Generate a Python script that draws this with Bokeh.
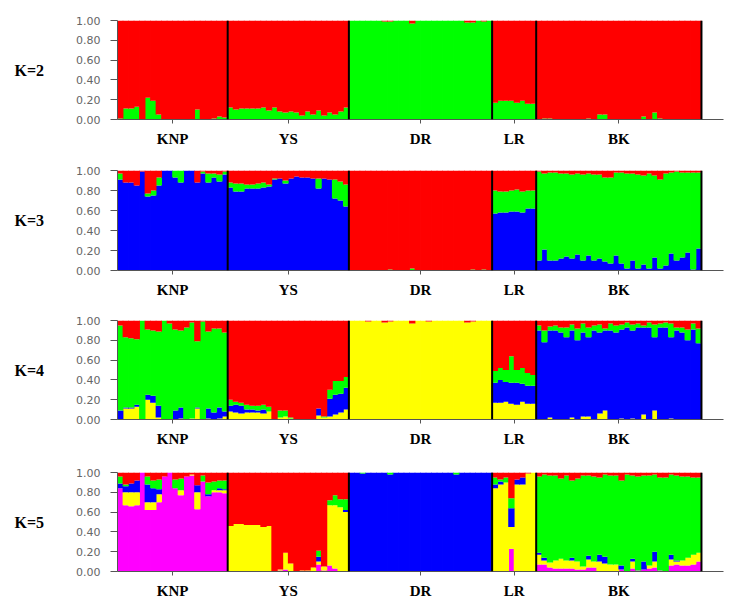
import numpy as np
from bokeh.plotting import figure
from bokeh.layouts import column
from bokeh.models import ColumnDataSource, Range1d, FixedTicker, Span, NumeralTickFormatter
from bokeh.embed import file_html
from bokeh.resources import INLINE

# ---------------- data ----------------
POPS = ["KNP", "YS", "DR", "LR", "BK"]
POP_SIZES = [20, 22, 26, 8, 30]
K_LABELS = ["K=2", "K=3", "K=4", "K=5"]
Y_TICKS = [0.0, 0.2, 0.4, 0.6, 0.8, 1.0]

# membership proportions per individual, cluster stacked bottom -> top;
# red is always the top cluster (remainder to 1.0)
K2_GREEN = (
    [0.01, 0.11, 0.11, 0.13, 0.00, 0.22, 0.19, 0.05, 0, 0, 0, 0, 0, 0, 0.10, 0, 0, 0.01, 0.03, 0.02]
    + [0.12, 0.10, 0.11, 0.11, 0.11, 0.11, 0.12, 0.09, 0.12, 0.08, 0.07, 0.08, 0.07, 0.04, 0.08, 0.05, 0.09, 0.04, 0.07, 0.05, 0.08, 0.12]
    + [1, 1, 1, 1, 1, 1, 0.99, 0.99, 1, 1, 1, 0.97, 1, 1, 1, 1, 1, 1, 1, 1, 1, 0.98, 0.98, 1, 0.99, 1]
    + [0.17, 0.19, 0.19, 0.19, 0.17, 0.19, 0.16, 0.16]
    + [0, 0.01, 0.01, 0, 0, 0, 0, 0, 0, 0.01, 0, 0.05, 0.05, 0, 0, 0, 0, 0, 0, 0.03, 0, 0.07, 0.01, 0, 0, 0, 0, 0, 0, 0]
)

K3_BLUE = (
    [0.91, 0.88, 0.88, 0.85, 0.99, 0.74, 0.75, 0.85, 1, 1, 0.93, 0.88, 1, 1, 0.88, 0.97, 0.88, 0.93, 0.89, 0.96]
    + [0.83, 0.79, 0.79, 0.82, 0.82, 0.82, 0.83, 0.84, 0.91, 0.92, 0.87, 0.92, 0.94, 0.93, 0.93, 0.92, 0.82, 0.92, 0.91, 0.72, 0.70, 0.64]
    + [0] * 26
    + [0.57, 0.58, 0.58, 0.59, 0.59, 0.58, 0.62, 0.62]
    + [0.10, 0.21, 0.10, 0.10, 0.12, 0.14, 0.12, 0.16, 0.10, 0.15, 0.10, 0.12, 0.09, 0.07, 0.15, 0.07, 0.02, 0.10, 0.02, 0.06, 0.02, 0.13, 0.02, 0.05, 0.17, 0.10, 0.13, 0.18, 0.01, 0.22]
)
K3_GREEN = (
    [0.06, 0, 0, 0, 0, 0.03, 0.05, 0.08, 0, 0, 0.07, 0.12, 0, 0, 0, 0.02, 0.09, 0.04, 0.07, 0.03]
    + [0.05, 0.08, 0.08, 0.04, 0.04, 0.05, 0.05, 0.02, 0.01, 0, 0.03, 0, 0, 0, 0, 0, 0.10, 0, 0, 0.19, 0.19, 0.22]
    + [0, 0, 0, 0, 0, 0, 0, 0.01, 0, 0, 0, 0.02, 0, 0, 0, 0, 0, 0, 0, 0, 0, 0, 0.01, 0, 0.01, 0]
    + [0.23, 0.21, 0.21, 0.21, 0.22, 0.21, 0.18, 0.18]
    + [0.89, 0.76, 0.88, 0.88, 0.85, 0.83, 0.84, 0.81, 0.86, 0.82, 0.86, 0.84, 0.84, 0.86, 0.83, 0.91, 0.95, 0.87, 0.94, 0.89, 0.95, 0.82, 0.89, 0.92, 0.81, 0.89, 0.85, 0.80, 0.97, 0.76]
)

K4_YELLOW = (
    [0, 0.11, 0.11, 0.13, 0, 0.20, 0.17, 0.02, 0, 0, 0, 0.01, 0, 0.01, 0.11, 0, 0.01, 0, 0.01, 0.03]
    + [0.08, 0.07, 0.06, 0.07, 0.07, 0.07, 0.06, 0.08, 0, 0.02, 0.03, 0.01, 0, 0, 0, 0, 0.04, 0.02, 0.03, 0.05, 0.07, 0.10]
    + [1, 1, 1, 0.99, 1, 1, 0.98, 0.99, 1, 1, 1, 0.97, 1, 1, 0.99, 1, 1, 1, 1, 1, 1, 0.98, 0.99, 1, 1, 1]
    + [0.17, 0.17, 0.18, 0.16, 0.15, 0.18, 0.16, 0.16]
    + [0, 0, 0.02, 0, 0, 0, 0.02, 0, 0.03, 0.03, 0, 0.06, 0.09, 0, 0, 0.01, 0, 0.01, 0, 0.05, 0, 0.09, 0, 0, 0.01, 0, 0, 0, 0, 0]
)
K4_BLUE = (
    [0.09, 0.01, 0.01, 0.02, 0, 0.05, 0.07, 0.12, 0, 0, 0.09, 0.11, 0, 0, 0.01, 0, 0.10, 0.07, 0.11, 0.05]
    + [0.06, 0.08, 0.08, 0.03, 0.03, 0.02, 0.04, 0, 0, 0, 0, 0, 0, 0, 0, 0, 0.07, 0, 0.18, 0.20, 0.19, 0.22]
    + [0] * 26
    + [0.20, 0.23, 0.20, 0.21, 0.22, 0.18, 0.18, 0.18]
    + [0.90, 0.78, 0.88, 0.90, 0.88, 0.83, 0.88, 0.80, 0.85, 0.80, 0.90, 0.82, 0.81, 0.90, 0.88, 0.90, 0.93, 0.89, 0.93, 0.88, 0.93, 0.74, 0.93, 0.93, 0.82, 0.90, 0.88, 0.80, 0.91, 0.77]
)
K4_GREEN = (
    [0.86, 0.71, 0.70, 0.66, 1.0, 0.66, 0.66, 0.75, 1.0, 0.97, 0.82, 0.78, 0.93, 0.97, 0.67, 0.99, 0.78, 0.85, 0.80, 0.80]
    + [0.06, 0.03, 0.03, 0.05, 0.04, 0.05, 0.05, 0.05, 0, 0.07, 0.06, 0.01, 0, 0, 0, 0, 0, 0.01, 0.09, 0.14, 0.13, 0.11]
    + [0] * 26
    + [0.12, 0.12, 0.12, 0.27, 0.13, 0.16, 0.13, 0.11]
    + [0.05, 0.12, 0.04, 0.05, 0.05, 0.10, 0.06, 0.12, 0.09, 0.10, 0.05, 0.08, 0.02, 0.07, 0.07, 0.05, 0.05, 0.06, 0.04, 0.02, 0.05, 0.13, 0.04, 0.05, 0.14, 0.03, 0.05, 0.11, 0.06, 0.15]
)

K5_MAGENTA = (
    [0.84, 0.67, 0.66, 0.67, 1.0, 0.62, 0.62, 0.70, 0.96, 1.0, 0.84, 0.77, 0.96, 0.97, 0.63, 0.91, 0.76, 0.80, 0.80, 0.79]
    + [0, 0, 0, 0, 0, 0, 0, 0, 0, 0.01, 0.02, 0, 0, 0, 0, 0, 0.07, 0.01, 0.06, 0.03, 0, 0]
    + [0] * 26
    + [0, 0, 0, 0.23, 0, 0, 0, 0]
    + [0.07, 0.07, 0.04, 0.03, 0.03, 0.03, 0.03, 0.02, 0.02, 0.04, 0.04, 0, 0, 0, 0, 0.02, 0, 0.03, 0.01, 0.02, 0.03, 0.04, 0.01, 0, 0.06, 0.07, 0.06, 0.06, 0.07, 0.10]
)
K5_YELLOW = (
    [0, 0.13, 0.14, 0.13, 0, 0.08, 0.08, 0.08, 0, 0, 0, 0.05, 0, 0.01, 0.17, 0, 0, 0.02, 0.02, 0.03]
    + [0.46, 0.48, 0.48, 0.47, 0.47, 0.47, 0.45, 0.46, 0, 0.01, 0.17, 0.08, 0, 0.01, 0.01, 0.04, 0.03, 0.04, 0.61, 0.64, 0.65, 0.60]
    + [0] * 26
    + [0.84, 0.88, 0.90, 0.22, 0.88, 0.88, 0.99, 1.0]
    + [0.10, 0.04, 0.05, 0.08, 0.10, 0.08, 0.08, 0.08, 0.03, 0.08, 0.06, 0.10, 0.08, 0.07, 0.07, 0, 0, 0.07, 0, 0, 0.03, 0.06, 0, 0, 0.06, 0.03, 0.05, 0.08, 0.10, 0.09]
)
K5_BLUE = (
    [0.05, 0.06, 0.09, 0.12, 0, 0.18, 0.14, 0.05, 0, 0, 0, 0, 0, 0, 0.07, 0, 0.02, 0, 0.02, 0.01]
    + [0, 0, 0, 0, 0, 0, 0, 0, 0, 0, 0, 0, 0, 0, 0, 0, 0.05, 0, 0, 0, 0, 0.02]
    + [1, 1, 0.99, 1, 1, 1, 1, 0.98, 1, 1, 1, 1, 1, 1, 1, 1, 1, 1, 1, 0.98, 1, 1, 1, 1, 1, 1]
    + [0.04, 0.03, 0, 0.19, 0.05, 0.07, 0, 0]
    + [0.02, 0.03, 0, 0, 0, 0, 0.03, 0, 0, 0.04, 0, 0.07, 0.07, 0, 0, 0.04, 0, 0.03, 0, 0.08, 0, 0.10, 0, 0, 0.05, 0.01, 0, 0, 0, 0]
)
K5_GREEN = (
    [0.07, 0.02, 0, 0, 0, 0.08, 0.08, 0.10, 0, 0, 0.09, 0.12, 0, 0, 0, 0.06, 0.12, 0.09, 0.08, 0.09]
    + [0, 0, 0, 0, 0, 0, 0, 0, 0, 0, 0, 0, 0, 0, 0, 0, 0.06, 0, 0.05, 0.10, 0.08, 0.11]
    + [0, 0, 0.01, 0, 0, 0, 0, 0.02, 0, 0, 0, 0, 0, 0, 0, 0, 0, 0, 0, 0.02, 0, 0, 0, 0, 0, 0]
    + [0.07, 0.02, 0.05, 0.10, 0, 0, 0, 0]
    + [0.77, 0.84, 0.88, 0.86, 0.81, 0.86, 0.78, 0.84, 0.92, 0.81, 0.86, 0.78, 0.83, 0.90, 0.90, 0.86, 0.98, 0.84, 0.95, 0.87, 0.91, 0.78, 0.94, 0.95, 0.81, 0.86, 0.85, 0.82, 0.78, 0.76]
)

RED = "#ff0000"
GREEN = "#00ff00"
BLUE = "#0000ff"
YELLOW = "#ffff00"
MAGENTA = "#ff00ff"

PANELS = [
    (K_LABELS[0], [("green", K2_GREEN, GREEN)]),
    (K_LABELS[1], [("blue", K3_BLUE, BLUE), ("green", K3_GREEN, GREEN)]),
    (K_LABELS[2], [("yellow", K4_YELLOW, YELLOW), ("blue", K4_BLUE, BLUE), ("green", K4_GREEN, GREEN)]),
    (K_LABELS[3], [("magenta", K5_MAGENTA, MAGENTA), ("yellow", K5_YELLOW, YELLOW),
                   ("blue", K5_BLUE, BLUE), ("green", K5_GREEN, GREEN)]),
]

# layout (px): height, top border, bottom border
SIZES = [(150, 20, 31), (150, 20, 29), (150, 20, 31), (160, 22, 39)]

N = sum(POP_SIZES)
bounds = np.cumsum(POP_SIZES)
starts = bounds - np.array(POP_SIZES)
centers = [int(s + n / 2) for s, n in zip(starts, POP_SIZES)]

figs = []
for (klabel, clusters), (h, tb, bb) in zip(PANELS, SIZES):
    data = {"x": np.arange(N) + 0.5}
    names, colors = [], []
    total = np.zeros(N)
    for nm, vals, col in clusters:
        v = np.array(vals, dtype=float)
        data[nm] = v
        total += v
        names.append(nm)
        colors.append(col)
    data["red"] = np.clip(1.0 - total, 0, None)
    names.append("red")
    colors.append(RED)
    src = ColumnDataSource(data)

    p = figure(width=748, height=h, output_backend="svg", toolbar_location=None,
               x_range=Range1d(0, 110), y_range=Range1d(0, 1),
               min_border_left=117, min_border_right=25,
               min_border_top=tb, min_border_bottom=bb)
    p.vbar_stack(names, x="x", width=1.15, color=colors, line_width=0, source=src)

    for b in bounds:
        p.add_layout(Span(location=float(b), dimension="height",
                          line_color="black", line_width=2))

    p.outline_line_color = None
    p.xgrid.visible = False
    p.ygrid.visible = False
    p.background_fill_color = "white"

    ya = p.yaxis[0]
    ya.ticker = FixedTicker(ticks=Y_TICKS)
    ya.formatter = NumeralTickFormatter(format="0.00")
    ya.major_label_text_font = "DejaVu Sans"
    ya.major_label_text_font_size = "11px"
    ya.major_label_text_color = "#666666"
    ya.major_label_standoff = 10
    ya.major_tick_out = 7
    ya.major_tick_in = 0
    ya.minor_tick_out = 0
    ya.minor_tick_in = 0
    ya.axis_line_color = "#555555"
    ya.major_tick_line_color = "#555555"
    ya.axis_label = klabel
    ya.axis_label_orientation = "horizontal"
    ya.axis_label_standoff = 29
    ya.axis_label_text_font = "Liberation Serif"
    ya.axis_label_text_font_style = "bold"
    ya.axis_label_text_font_size = "16px"
    ya.axis_label_text_color = "black"

    xa = p.xaxis[0]
    xa.ticker = FixedTicker(ticks=centers)
    xa.major_label_overrides = {c: name for c, name in zip(centers, POPS)}
    xa.major_label_text_font = "Liberation Serif"
    xa.major_label_text_font_style = "bold"
    xa.major_label_text_font_size = "15px"
    xa.major_label_text_color = "black"
    xa.major_label_standoff = 7
    xa.major_tick_out = 4
    xa.major_tick_in = 0
    xa.minor_tick_out = 0
    xa.minor_tick_in = 0
    xa.axis_line_color = "#555555"
    xa.major_tick_line_color = "#555555"

    figs.append(p)

layout = column(*figs, spacing=0)
open("out.html", "w").write(file_html(layout, INLINE))
